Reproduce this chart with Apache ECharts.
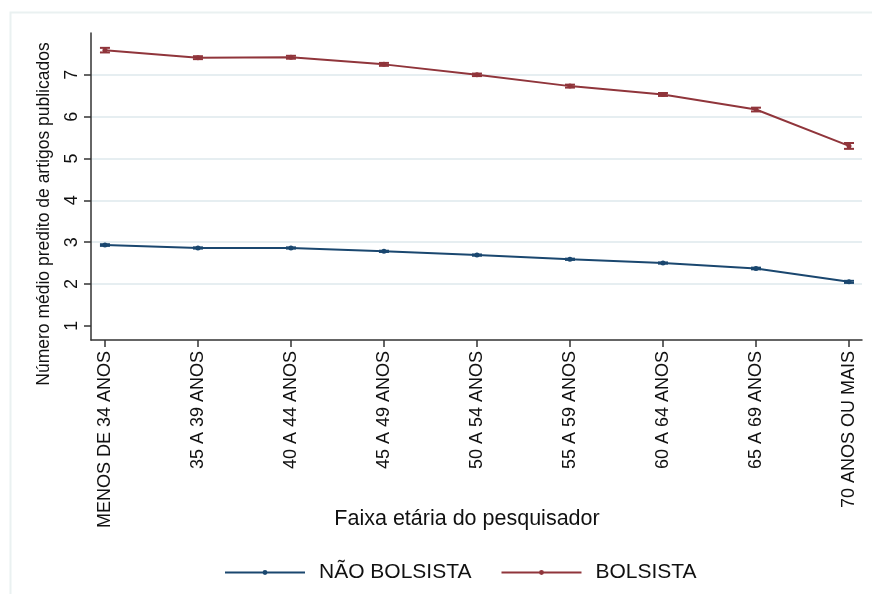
<!DOCTYPE html>
<html><head><meta charset="utf-8">
<script src="https://cdn.jsdelivr.net/npm/echarts@6/dist/echarts.min.js"></script>
<style>html,body{margin:0;padding:0;background:#fff}#c{width:872px;height:594px}</style>
</head><body><div id="c"></div>
<script>
const categories = ['MENOS DE 34 ANOS','35 A 39 ANOS','40 A 44 ANOS','45 A 49 ANOS','50 A 54 ANOS','55 A 59 ANOS','60 A 64 ANOS','65 A 69 ANOS','70 ANOS OU MAIS'];
const naoBolsista = [2.93, 2.86, 2.86, 2.78, 2.69, 2.59, 2.50, 2.37, 2.05];
const naoBolsistaErr = [0.02, 0.015, 0.015, 0.015, 0.015, 0.015, 0.015, 0.02, 0.025];
const bolsista = [7.59, 7.41, 7.42, 7.25, 7.00, 6.73, 6.53, 6.17, 5.30];
const bolsistaErr = [0.055, 0.035, 0.035, 0.035, 0.03, 0.035, 0.035, 0.045, 0.07];
const yTicks = [1, 2, 3, 4, 5, 6, 7];
const xTicks = categories.map((c, i) => i);

const BLUE = '#1a476f', RED = '#90353b', GRID = '#e6eef1', AXIS = '#333';
const FONT = 'Liberation Sans, Arial, sans-serif';

function errBars(color) {
  return function (params, api) {
    const i = api.value(0), v = api.value(1), e = api.value(2);
    const lo = api.coord([i, v - e]), hi = api.coord([i, v + e]);
    const hw = 5;
    const st = { stroke: color, lineWidth: 2 };
    return { type: 'group', children: [
      { type: 'line', shape: { x1: lo[0], y1: lo[1], x2: hi[0], y2: hi[1] }, style: st },
      { type: 'line', shape: { x1: lo[0] - hw, y1: lo[1], x2: lo[0] + hw, y2: lo[1] }, style: st },
      { type: 'line', shape: { x1: hi[0] - hw, y1: hi[1], x2: hi[0] + hw, y2: hi[1] }, style: st }
    ]};
  };
}

const chart = echarts.init(document.getElementById('c'), null, { renderer: 'canvas' });
chart.setOption({
  animation: false,
  backgroundColor: '#fff',
  textStyle: { fontFamily: FONT },
  grid: { left: 91, top: 33, right: 10, bottom: 254, containLabel: false },
  xAxis: {
    type: 'value', min: -0.15, max: 8.14,
    axisLine: { show: true, onZero: false, lineStyle: { color: AXIS, width: 1.5 } },
    axisTick: { show: true, length: 7, customValues: xTicks, lineStyle: { color: AXIS, width: 1.5 } },
    axisLabel: { customValues: xTicks, rotate: 90, margin: 11, fontSize: 18, color: '#111', fontFamily: FONT,
      formatter: v => categories[Math.round(v)] },
    splitLine: { show: false }
  },
  yAxis: {
    type: 'value', min: 0.66, max: 8.0,
    axisLine: { show: true, onZero: false, lineStyle: { color: AXIS, width: 1.5 } },
    axisTick: { show: true, length: 7, customValues: yTicks, lineStyle: { color: AXIS, width: 1.5 } },
    axisLabel: { customValues: yTicks, rotate: 90, margin: 10, fontSize: 18, color: '#111', fontFamily: FONT },
    splitLine: { show: true, lineStyle: { color: ['rgba(0,0,0,0)', GRID, GRID, GRID, GRID, GRID, GRID], width: 2 } }
  },
  legend: {
    data: ['NÃO BOLSISTA', 'BOLSISTA'],
    left: 219, top: 557,
    itemWidth: 80, itemHeight: 6, itemGap: 29,
    textStyle: { fontSize: 21, color: '#111', fontFamily: FONT, padding: [0, 0, 0, 9] }
  },
  series: [
    { name: 'NÃO BOLSISTA', type: 'line', data: categories.map((c, i) => [i, naoBolsista[i]]),
      symbol: 'circle', symbolSize: 5, lineStyle: { color: BLUE, width: 2 }, itemStyle: { color: BLUE }, z: 3 },
    { name: 'BOLSISTA', type: 'line', data: categories.map((c, i) => [i, bolsista[i]]),
      symbol: 'circle', symbolSize: 5, lineStyle: { color: RED, width: 2 }, itemStyle: { color: RED }, z: 3 },
    { name: 'ic_nao', type: 'custom', renderItem: errBars(BLUE), z: 4,
      data: categories.map((c, i) => [i, naoBolsista[i], naoBolsistaErr[i]]) },
    { name: 'ic_bol', type: 'custom', renderItem: errBars(RED), z: 4,
      data: categories.map((c, i) => [i, bolsista[i], bolsistaErr[i]]) }
  ],
  graphic: [
    { type: 'rect', shape: { x: 10.5, y: 12.5, width: 900, height: 700 }, style: { fill: 'none', stroke: '#eaf1f1', lineWidth: 2 }, z: -10, silent: true },
    { type: 'text', x: 44, y: 214, rotation: Math.PI / 2,
      style: { text: 'Número médio predito de artigos publicados', font: '17.5px ' + FONT, fill: '#111', align: 'center', verticalAlign: 'middle' } },
    { type: 'text', x: 467, y: 519,
      style: { text: 'Faixa etária do pesquisador', font: '21.5px ' + FONT, fill: '#111', align: 'center', verticalAlign: 'middle' } }
  ]
});
</script></body></html>
